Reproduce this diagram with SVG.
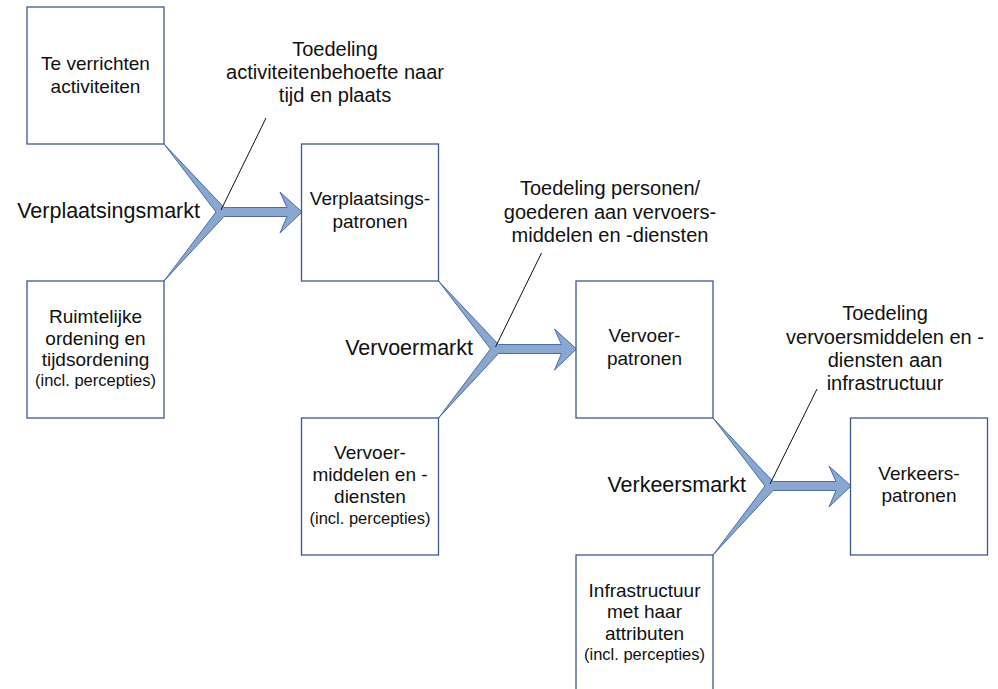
<svg xmlns="http://www.w3.org/2000/svg" xmlns:xlink="http://www.w3.org/1999/xlink" width="998" height="689" viewBox="0 0 998 689">
  <style>
    .box { fill: #ffffff; stroke: #3b5a8f; stroke-width: 1.3; }
    .t { font-family: "Liberation Sans", Arial, sans-serif; font-size: 19px; fill: #111; text-anchor: middle; }
    .small { font-size: 16.5px; }
    .note { font-family: "Liberation Sans", Arial, sans-serif; font-size: 20px; fill: #111; text-anchor: middle; }
    .market { font-family: "Liberation Sans", Arial, sans-serif; font-size: 21.5px; fill: #111; text-anchor: end; }
    .merge { fill: #8aa7cf; stroke: #4a6ea6; stroke-width: 1; stroke-linejoin: miter; }
    .lead { stroke: #111; stroke-width: 1; fill: none; }
  </style>
  <defs>
    <!-- two tapered inputs merging into a block arrow; drawn for the first stage -->
    <path id="merge" class="merge" d="M164,144 L224,207.5 L287,207.5 L280,192 L302,212 L280,233 L287,216.5 L224,216.5 L164,281 L216,212 Z"/>
  </defs>

  <rect width="998" height="689" fill="#ffffff"/>

  <!-- connectors -->
  <g id="connectors">
    <use xlink:href="#merge"/>
    <use xlink:href="#merge" transform="translate(274.5,137)"/>
    <use xlink:href="#merge" transform="translate(549,274)"/>
    <line class="lead" x1="221" y1="210" x2="266" y2="118"/>
    <line class="lead" x1="495.5" y1="347" x2="541.5" y2="253"/>
    <line class="lead" x1="770" y1="484" x2="817" y2="389"/>
  </g>

  <!-- nodes -->
  <g id="activiteiten">
    <rect class="box" x="27" y="7" width="137" height="137"/>
    <text class="t" x="95.5" y="70">Te verrichten</text>
    <text class="t" x="95.5" y="93">activiteiten</text>
  </g>
  <g id="ruimtelijke-ordening">
    <rect class="box" x="27" y="281" width="137" height="137"/>
    <text class="t" x="95.5" y="323">Ruimtelijke</text>
    <text class="t" x="95.5" y="345">ordening en</text>
    <text class="t" x="95.5" y="366">tijdsordening</text>
    <text class="t small" x="95.5" y="386">(incl. percepties)</text>
  </g>
  <g id="verplaatsingspatronen">
    <rect class="box" x="301.5" y="144" width="137" height="137"/>
    <text class="t" x="370" y="205">Verplaatsings-</text>
    <text class="t" x="370" y="228">patronen</text>
  </g>
  <g id="vervoermiddelen">
    <rect class="box" x="301.5" y="418" width="137" height="137"/>
    <text class="t" x="370" y="459">Vervoer-</text>
    <text class="t" x="370" y="481">middelen en -</text>
    <text class="t" x="370" y="503">diensten</text>
    <text class="t small" x="370" y="524">(incl. percepties)</text>
  </g>
  <g id="vervoerpatronen">
    <rect class="box" x="576" y="281" width="137" height="137"/>
    <text class="t" x="644.5" y="342">Vervoer-</text>
    <text class="t" x="644.5" y="365">patronen</text>
  </g>
  <g id="infrastructuur">
    <rect class="box" x="576" y="555" width="137" height="137"/>
    <text class="t" x="644.5" y="597">Infrastructuur</text>
    <text class="t" x="644.5" y="618">met haar</text>
    <text class="t" x="644.5" y="640">attributen</text>
    <text class="t small" x="644.5" y="660">(incl. percepties)</text>
  </g>
  <g id="verkeerspatronen">
    <rect class="box" x="850.5" y="418" width="137" height="137"/>
    <text class="t" x="919" y="480">Verkeers-</text>
    <text class="t" x="919" y="502">patronen</text>
  </g>

  <!-- market labels -->
  <g id="markets">
    <text class="market" x="200" y="218">Verplaatsingsmarkt</text>
    <text class="market" x="473" y="355">Vervoermarkt</text>
    <text class="market" x="746" y="492">Verkeersmarkt</text>
  </g>

  <!-- allocation notes -->
  <g id="notes">
    <text class="note" x="335" y="56">Toedeling</text>
    <text class="note" x="335" y="79">activiteitenbehoefte naar</text>
    <text class="note" x="335" y="102">tijd en plaats</text>
    <text class="note" x="610" y="195">Toedeling personen/</text>
    <text class="note" x="610" y="219">goederen aan vervoers-</text>
    <text class="note" x="610" y="242">middelen en -diensten</text>
    <text class="note" x="885" y="320">Toedeling</text>
    <text class="note" x="885" y="344">vervoersmiddelen en -</text>
    <text class="note" x="885" y="367">diensten aan</text>
    <text class="note" x="885" y="390">infrastructuur</text>
  </g>
</svg>
